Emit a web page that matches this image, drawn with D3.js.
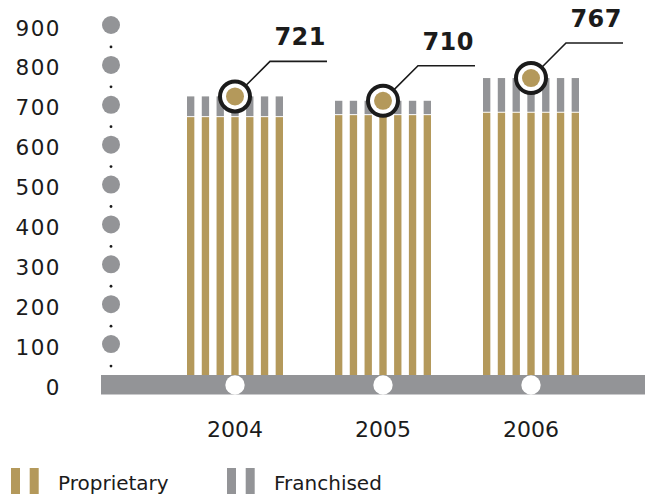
<!DOCTYPE html>
<html>
<head>
<meta charset="utf-8">
<script src="https://cdn.jsdelivr.net/npm/d3@7"></script>
<style>
  html, body { margin: 0; padding: 0; background: #ffffff; }
  svg { display: block; }
</style>
</head>
<body>
<script>
// ---- data ----
const years = ["2004", "2005", "2006"];
const proprietary = [669, 674, 680];
const franchised = [52, 36, 87];
const totals = [721, 710, 767];
const yTicks = [0, 100, 200, 300, 400, 500, 600, 700, 800, 900];
const minorDots = [45, 145, 245, 345, 445, 545, 645, 745, 845];
const legendItems = ["Proprietary", "Franchised"];
const stripesPerYear = 7;

// ---- style ----
const W = 645, H = 494;
const gold = "#b4995b";
const gray = "#939497";
const ink = "#1b1b1b";
const font = "'DejaVu Sans', sans-serif";

const svg = d3.select("body").append("svg").attr("width", W).attr("height", H);

const y = d3.scaleLinear().domain([0, 900]).range([384, 25]);
const x = d3.scaleBand().domain(years).range([187, 579]).paddingInner(52 / 148).paddingOuter(0);
const stripe = d3.scaleBand().domain(d3.range(stripesPerYear)).range([0, x.bandwidth()]).paddingInner(1 - 7.3 / 14.7).paddingOuter(0);

const data = years.map((yr, i) => ({ year: yr, prop: proprietary[i], fr: franchised[i], total: totals[i] }));
const cx = d => x(d.year) + x.bandwidth() / 2;

// ---- bars ----
const groups = svg.append("g").selectAll("g").data(data).join("g")
  .attr("transform", d => `translate(${x(d.year)},0)`);

groups.each(function (d) {
  const g = d3.select(this);
  const idx = d3.range(stripesPerYear);
  g.selectAll("rect.prop").data(idx).join("rect").attr("class", "prop")
    .attr("x", k => stripe(k)).attr("width", stripe.bandwidth())
    .attr("y", y(d.prop)).attr("height", y(0) - y(d.prop)).attr("fill", gold);
  g.selectAll("rect.fr").data(idx).join("rect").attr("class", "fr")
    .attr("x", k => stripe(k)).attr("width", stripe.bandwidth())
    .attr("y", y(d.prop + d.fr)).attr("height", Math.max(0, y(d.prop) - y(d.prop + d.fr) - 1)).attr("fill", gray);
});

// ---- baseline band ----
svg.append("rect").attr("x", 101).attr("width", W - 101)
  .attr("y", y(0) - 9).attr("height", 19.5).attr("fill", gray);
svg.append("g").selectAll("circle").data(data).join("circle")
  .attr("cx", cx).attr("cy", y(0) + 1).attr("r", 9.7).attr("fill", "#ffffff");

// ---- y axis (dots) ----
const axisX = 111;
svg.append("g").selectAll("circle").data(yTicks.filter(v => v > 0)).join("circle")
  .attr("cx", axisX).attr("cy", v => y(v)).attr("r", 9).attr("fill", gray);
svg.append("g").selectAll("circle").data(minorDots).join("circle")
  .attr("cx", axisX).attr("cy", v => y(v)).attr("r", 1.4).attr("fill", ink);
svg.append("g").selectAll("text").data(yTicks).join("text")
  .attr("x", 61).attr("y", v => y(v) + 10.5)
  .attr("text-anchor", "end")
  .attr("font-family", font).attr("font-size", 21.5).attr("letter-spacing", 1.5)
  .attr("fill", ink).text(v => v);

// ---- x labels ----
svg.append("g").selectAll("text").data(data).join("text")
  .attr("x", cx).attr("y", 436.5).attr("text-anchor", "middle")
  .attr("font-family", font).attr("font-size", 22).attr("fill", ink)
  .text(d => d.year);

// ---- annotations ----
const ann = svg.append("g").selectAll("g").data(data).join("g")
  .attr("transform", d => `translate(${cx(d)},${y(d.total)})`);
ann.append("path")
  .attr("d", "M10.6,-10.6 L35,-35 L92,-35")
  .attr("fill", "none").attr("stroke", ink).attr("stroke-width", 1.6);
ann.append("circle").attr("r", 15).attr("fill", "#ffffff").attr("stroke", ink).attr("stroke-width", 4);
ann.append("circle").attr("r", 9).attr("fill", gold);
ann.append("text").attr("x", 91).attr("y", -51)
  .attr("text-anchor", "end")
  .attr("font-family", font).attr("font-weight", "bold").attr("font-size", 24)
  .attr("letter-spacing", 0.5)
  .attr("fill", ink).text(d => d.total);

// ---- legend ----
const legendColors = [gold, gray];
const legendX = [11, 227];
const lg = svg.append("g").selectAll("g").data(legendItems).join("g")
  .attr("transform", (d, i) => `translate(${legendX[i]},468)`);
lg.selectAll("rect").data((d, i) => [i, i]).join("rect")
  .attr("x", (d, k) => k * 18.7).attr("y", 0).attr("width", 9).attr("height", 26)
  .attr("fill", d => legendColors[d]);
lg.append("text").attr("x", 47).attr("y", 21.5)
  .attr("font-family", font).attr("font-size", 20).attr("fill", ink)
  .text(d => d);
</script>
</body>
</html>
